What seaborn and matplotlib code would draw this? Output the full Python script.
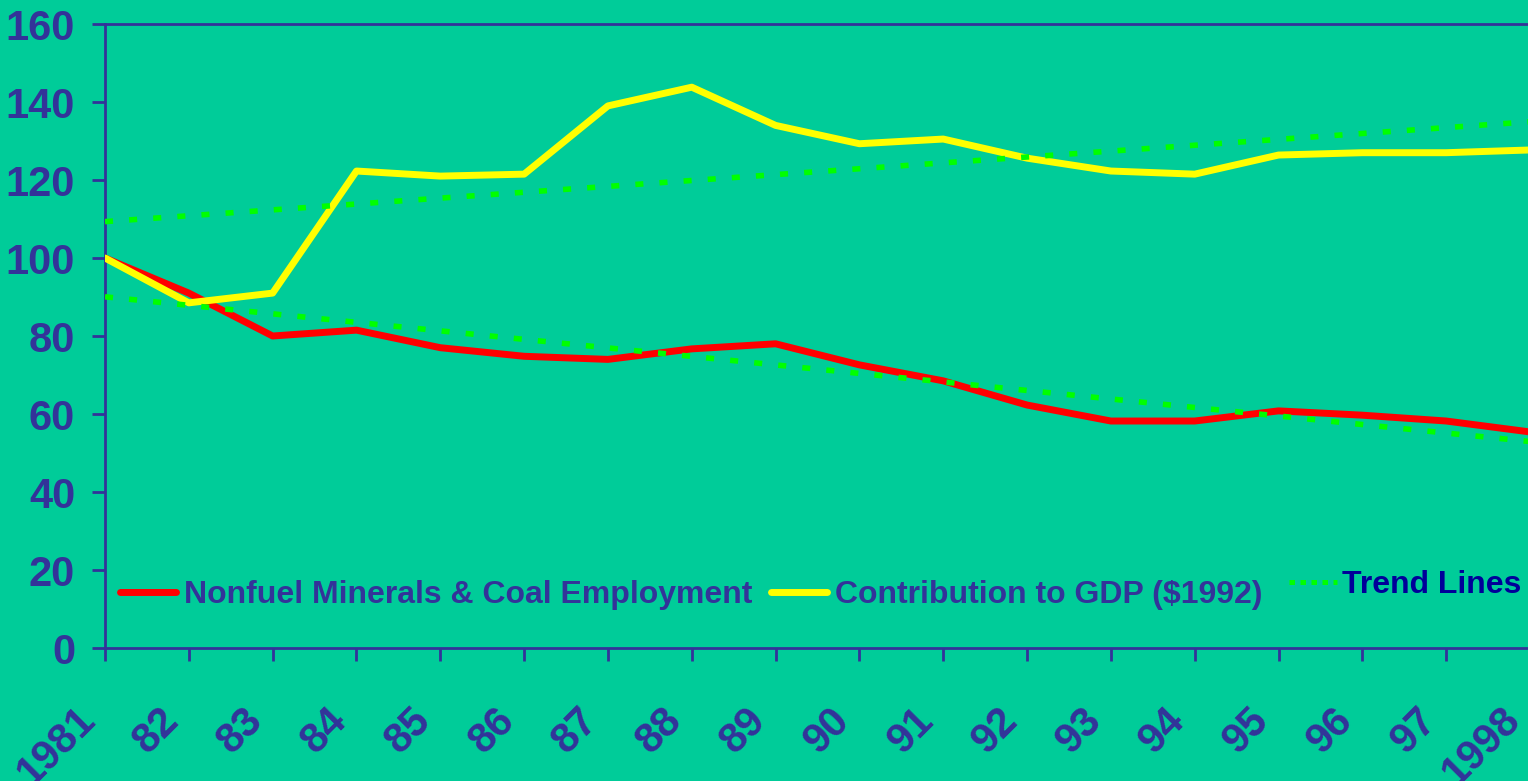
import pandas as pd
import seaborn as sns
import matplotlib.pyplot as plt
from matplotlib.lines import Line2D
from matplotlib.transforms import ScaledTranslation

# index values, 1981 = 100
years = list(range(1981, 1999))
year_labels = ['1981', '82', '83', '84', '85', '86', '87', '88', '89',
               '90', '91', '92', '93', '94', '95', '96', '97', '1998']
employment = [100, 91, 80, 81.5, 77, 74.8, 74, 76.7, 78, 72.6,
              68.5, 62.3, 58.2, 58.2, 60.8, 59.7, 58.2, 55.4]
gdp = [100, 88.5, 91, 122.3, 121, 121.5, 139, 143.8, 134, 129.3,
       130.5, 125.6, 122.3, 121.5, 126.4, 127, 127, 127.7]

df = pd.DataFrame({'year': years, 'employment': employment, 'gdp': gdp})

bg = '#00CC99'
navy = '#333399'
green = '#00FF00'

sns.set_style('ticks', {'axes.facecolor': bg, 'figure.facecolor': bg,
                        'axes.edgecolor': navy})
plt.rcParams['font.family'] = ['Liberation Sans', 'DejaVu Sans']
plt.rcParams['font.weight'] = 'bold'

fig = plt.figure(figsize=(15.28, 7.81), dpi=100)
ax = fig.add_axes([105 / 1528, 133 / 781, 1425 / 1528, 624 / 781])

sns.lineplot(data=df, x='year', y='employment', color='#FF0000', lw=5,
             ax=ax, zorder=2)
sns.lineplot(data=df, x='year', y='gdp', color='#FFFF00', lw=5,
             ax=ax, zorder=3)

# linear trend lines (like Excel trendlines)
for col in ['gdp', 'employment']:
    sns.regplot(data=df, x='year', y=col, scatter=False, ci=None, ax=ax,
                color=green,
                line_kws=dict(lw=4, linestyle=(0, (1.45, 2.9)), zorder=4))

ax.set_xlim(1981, 1998)
ax.set_ylim(0, 160)
ax.set_yticks(range(0, 161, 20))
ax.set_xticks(years)
ax.set_xticklabels(year_labels)
ax.set_xlabel('')
ax.set_ylabel('')
ax.grid(False)

for s in ['left', 'bottom', 'top']:
    ax.spines[s].set_color(navy)
    ax.spines[s].set_linewidth(2)
ax.spines['right'].set_visible(False)

ax.tick_params(axis='both', length=9.5, width=2, color=navy,
               labelcolor=navy, labelsize=30)
ax.tick_params(axis='y', pad=12)
ax.tick_params(axis='x', pad=28)

shift = ScaledTranslation(-30 / 100, 0, fig.dpi_scale_trans)
for lab in ax.get_xticklabels():
    lab.set_rotation(45)
    lab.set_ha('right')
    lab.set_va('top')
    lab.set_rotation_mode('anchor')
    lab.set_transform(lab.get_transform() + shift)

h1 = Line2D([], [], color='#FF0000', lw=5, solid_capstyle='round')
h2 = Line2D([], [], color='#FFFF00', lw=5, solid_capstyle='round')
leg1 = ax.legend([h1, h2],
                 ['Nonfuel Minerals & Coal Employment', 'Contribution to GDP ($1992)'],
                 loc='center left', bbox_to_anchor=(0.0105, 0.085), ncol=2,
                 frameon=False, fontsize=23, handlelength=1.75,
                 handletextpad=0.25, columnspacing=0.6, borderpad=0,
                 borderaxespad=0, labelcolor=navy)
ax.add_artist(leg1)

h3 = Line2D([], [], color=green, lw=3.6, linestyle=(0, (1.1, 1.1)))
ax.legend([h3], ['Trend Lines'], loc='center left',
          bbox_to_anchor=(0.831, 0.101), frameon=False, fontsize=23,
          handlelength=1.5, handletextpad=0.15, borderpad=0,
          borderaxespad=0, labelcolor='#000099')

fig.savefig('out.png', dpi=100, facecolor=bg)
